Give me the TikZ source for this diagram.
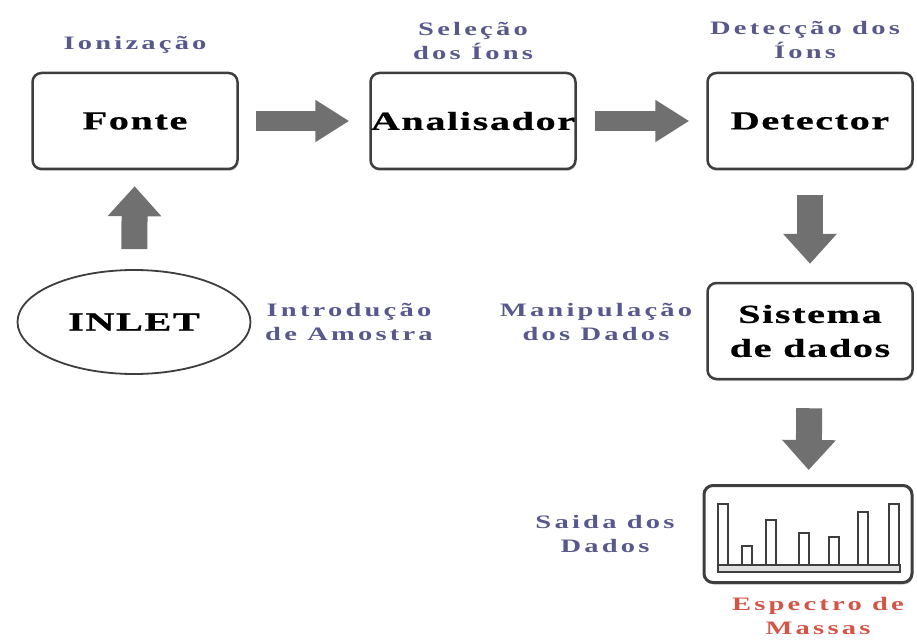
\documentclass[tikz,border=0pt]{standalone}
\usepackage{fontspec}
\setmainfont{Liberation Serif}
\newfontfamily\diagfont[FakeStretch=1.55,LetterSpace=6,FakeBold=0.6]{Liberation Serif}
\newfontfamily\tagfont[FakeStretch=1.5,LetterSpace=17]{Liberation Serif}
\usetikzlibrary{arrows.meta,shapes.geometric,shadows}

\definecolor{labelblue}{RGB}{88,88,140}
\definecolor{labelred}{RGB}{212,84,70}
\definecolor{arrowgray}{RGB}{112,112,112}
\definecolor{boxgray}{RGB}{62,62,62}

\tikzset{
    block/.style={draw=boxgray, line width=2.5pt, rounded corners=9pt,
        fill=white, minimum width=205pt, minimum height=96pt, align=center,
        inner sep=0pt, font=\diagfont\bfseries\fontsize{26}{34}\selectfont,
        drop shadow={shadow xshift=1pt, shadow yshift=-2pt, opacity=0.35}},
    inletbox/.style={draw=boxgray, line width=1.8pt, ellipse, fill=white,
        minimum width=233pt, minimum height=104pt, inner sep=0pt,
        font=\diagfont\bfseries\fontsize{26}{30}\selectfont},
    tag/.style={align=center, text=labelblue,
        font=\tagfont\bfseries\fontsize{19}{24}\selectfont},
    hflow/.style={draw=arrowgray, line width=20pt,
        -{Triangle[length=34pt,width=40pt]}},
    vflow/.style={draw=arrowgray, line width=26pt,
        -{Triangle[length=30pt,width=52pt]}},
    specbar/.style={draw=boxgray, line width=1.3pt, fill=white}
}

\begin{document}
\begin{tikzpicture}[x=1pt, y=-1pt]
        \useasboundingbox (0,0) rectangle (917,639);

        % Blocks
        \node[block] (fonte) at (135,121) {Fonte};
        \node[block] (analisador) at (473,121) {Analisador};
        \node[block] (detector) at (810,121) {Detector};
        \node[block] (sistema) at (810,331) {Sistema\\de dados};
        \node[block, minimum width=208pt, minimum height=97pt, line width=3pt]
            (espectro) at (808,534) {};
        \node[inletbox] (inlet) at (134,322) {INLET};

        % Labels
        \node[tag] (ionizacao) at (135,45) {Ionização};
        \node[tag] (selecao) at (473,41) {Seleção\\dos Íons};
        \node[tag] (deteccao) at (805,40) {Detecção dos\\Íons};
        \node[tag] (introducao) at (349,322) {Introdução\\de Amostra};
        \node[tag] (manipulacao) at (596,322) {Manipulação\\dos Dados};
        \node[tag] (saida) at (605,534) {Saida dos\\Dados};
        \node[tag, text=labelred] (massas) at (818,616) {Espectro de\\Massas};

        % Flow arrows
        \draw[hflow, shorten <=17pt, shorten >=20pt] (fonte) -- (analisador);
        \draw[hflow, shorten <=18pt, shorten >=17pt] (analisador) -- (detector);
        \draw[vflow, shorten <=20pt, shorten >=16pt] (inlet) -- (fonte);
        \draw[vflow, shorten <=25pt, shorten >=18pt] (detector) -- (sistema);
        \draw[vflow, shorten <=28pt, shorten >=14pt] (sistema) -- (espectro);

        % Spectrum inside the output box
        \draw[specbar, fill=black!12] (718,565) rectangle (900,572);
        \foreach \bx/\btop in {718/504, 742/546, 766/520, 799/533, 829/537,
            858/512, 889/504}
            \draw[specbar] (\bx,\btop) rectangle (\bx+10,565);
    \end{tikzpicture}
\end{document}
